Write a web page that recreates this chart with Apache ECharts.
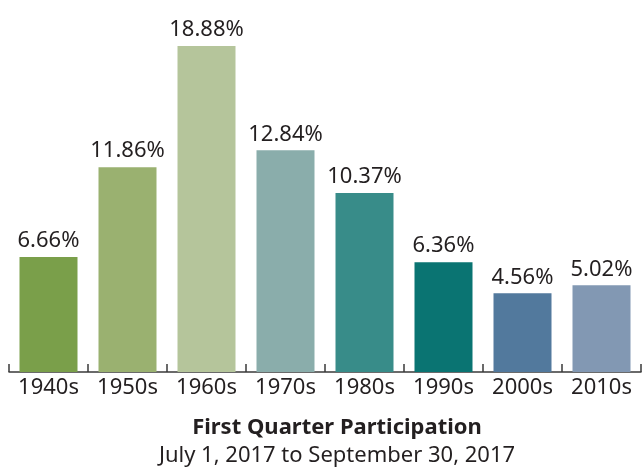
<!DOCTYPE html>
<html><head><meta charset="utf-8">
<script src="https://cdn.jsdelivr.net/npm/echarts@6/dist/echarts.min.js"></script>
<style>html,body{margin:0;padding:0;background:#fff}#c{width:642px;height:472px}</style>
</head><body><div id="c"></div>
<script>
var categories = ['1940s','1950s','1960s','1970s','1980s','1990s','2000s','2010s'];
var values = [6.66, 11.86, 18.88, 12.84, 10.37, 6.36, 4.56, 5.02];
var colors = ['#7a9f4a','#9ab170','#b5c59b','#8aadab','#388c89','#0a7472','#52799d','#8298b3'];
var titleText = 'First Quarter Participation';
var subtitleText = 'July 1, 2017 to September 30, 2017';

var chart = echarts.init(document.getElementById('c'));
var FONT = '"Noto Sans", sans-serif';
chart.setOption({
  animation: false,
  title: [
    {text: titleText, left: 332, top: 412, textAlign: 'center',
     textStyle: {fontFamily: FONT, fontSize: 22, fontWeight: 'bold', color: '#231f20'}},
    {text: subtitleText, left: 332, top: 440, textAlign: 'center',
     textStyle: {fontFamily: FONT, fontSize: 22, fontWeight: 'normal', color: '#231f20'}}
  ],
  grid: {left: 9, right: 1, top: 26.6, bottom: 100},
  xAxis: {
    type: 'category', data: categories,
    axisLine: {lineStyle: {color: '#3a3a3a', width: 1.5}},
    axisTick: {show: true, inside: true, length: 8, lineStyle: {color: '#3a3a3a', width: 1.5}},
    axisLabel: {interval: 0, hideOverlap: false, fontFamily: FONT, fontSize: 22, color: '#231f20', margin: 5}
  },
  yAxis: {type: 'value', min: 0, max: 20, show: false, splitLine: {show: false}},
  series: [{
    type: 'bar', barWidth: 58,
    data: values.map(function(v, i){ return {value: v, itemStyle: {color: colors[i]}}; }),
    label: {show: true, position: 'top', distance: 5, fontFamily: FONT, fontSize: 22, color: '#231f20',
      formatter: function(p){ return p.value.toFixed(2) + '%'; }}
  }]
});
</script></body></html>
